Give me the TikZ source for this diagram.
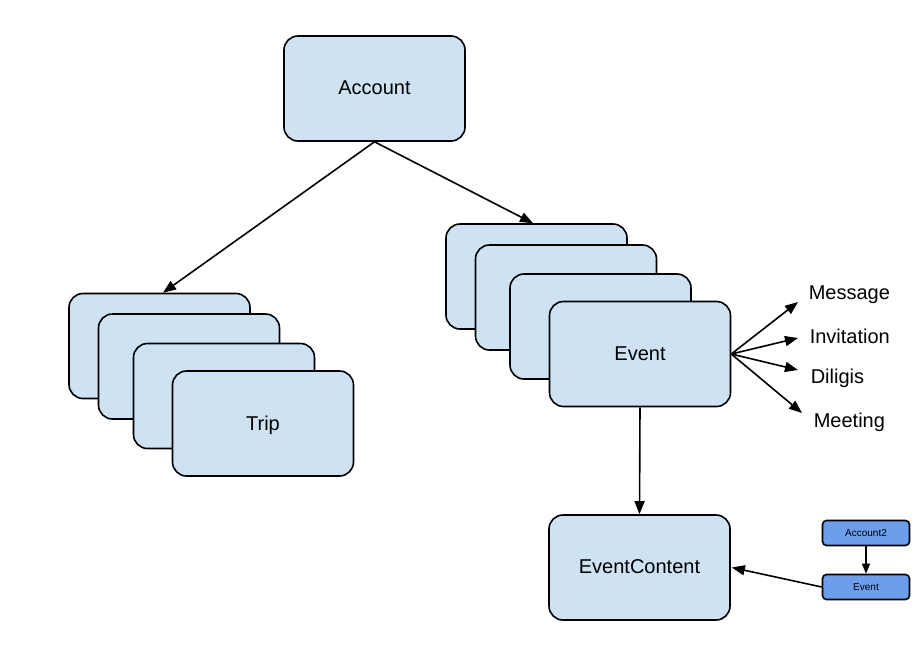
\documentclass[tikz,border=0pt]{standalone}
\usepackage{fontspec}
\setmainfont{Liberation Sans}
\usepackage{xcolor}
\usetikzlibrary{positioning, arrows.meta, shapes}
\definecolor{cardblue}{HTML}{CFE2F3}
\definecolor{darkblue}{HTML}{6D9EEB}

\begin{document}
\begin{tikzpicture}[x=1pt, y=-1pt, line width=1.6pt,
		card/.style={draw, rounded corners=14pt, fill=cardblue, minimum width=181pt, minimum height=105pt, text depth=1pt, font=\fontsize{20}{24}\selectfont},
		mini/.style={draw, rounded corners=4pt, fill=darkblue, minimum width=87pt, minimum height=25pt, font=\fontsize{10}{12}\selectfont},
		lbl/.style={inner sep=2pt, font=\fontsize{20}{24}\selectfont},
		arr/.style={-{Triangle[length=13pt, width=10pt]}},
		smallarr/.style={-{Triangle[length=10pt, width=8pt]}}]
			\useasboundingbox (0,0) rectangle (919,667);
			
			\node[card] (account) at (374.5,88.5) {Account};
			
			\node[card] (trip1) at (159.5,346) {};
			\node[card] (trip2) at (189,366.5) {};
			\node[card] (trip3) at (224,396) {};
			\node[card] (trip) at (263,423.5) {Trip};
			
			\node[card] (event1) at (536.5,276.5) {};
			\node[card] (event2) at (566,297.5) {};
			\node[card] (event3) at (600.5,326.5) {};
			\node[card] (event) at (640,354) {Event};
			
			\node[card] (content) at (639.5,567.5) {EventContent};
			
			\node[mini] (account2) at (866,533) {Account2};
			\node[mini] (minievent) at (866,587) {Event};
			
			\node[lbl, anchor=west] (msg) at (806,295) {Message};
			\node[lbl, anchor=west] (inv) at (807,336) {Invitation};
			\node[lbl, anchor=west] (dil) at (808,378) {Diligis};
			\node[lbl, anchor=west] (meet) at (811,422) {Meeting};
			
			\draw[arr] (account.south) -- ([xshift=3.5pt]trip1.north);
			\draw[arr] (account.south) -- ([xshift=-3.5pt]event1.north);
			
			\draw[arr] (event.east) -- ([xshift=-8pt, yshift=-7pt]msg.west);
			\draw[arr] (event.east) -- ([xshift=-9pt, yshift=-2pt]inv.west);
			\draw[arr] (event.east) -- ([xshift=-10pt, yshift=8pt]dil.west);
			\draw[arr] (event.east) -- ([xshift=-9pt, yshift=9pt]meet.west);
			
			\draw[arr] (event.south) -- (content.north);
			\draw[arr] (minievent.west) -- ([xshift=1pt]content.east);
			\draw[smallarr] (account2.south) -- (minievent.north);
	\end{tikzpicture}
\end{document}
